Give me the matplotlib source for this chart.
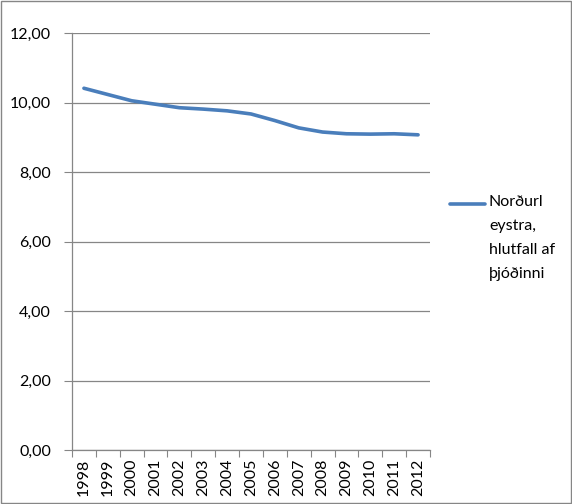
import matplotlib
matplotlib.use('Agg')
import matplotlib.pyplot as plt
from matplotlib.lines import Line2D
from matplotlib.patches import Rectangle
import numpy as np

# Data
years = ['1998', '1999', '2000', '2001', '2002', '2003', '2004', '2005',
         '2006', '2007', '2008', '2009', '2010', '2011', '2012']
share = [10.41, 10.23, 10.05, 9.95, 9.85, 9.81, 9.76, 9.67,
         9.48, 9.27, 9.15, 9.10, 9.09, 9.10, 9.07]
series_label = 'Norðurl\neystra,\nhlutfall af\nþjóðinni'
y_ticks = [0, 2, 4, 6, 8, 10, 12]

plt.rcParams['font.family'] = ['Lato', 'DejaVu Sans']
fs = 11.5

line_color = '#4A7EBB'
axis_color = '#868686'

fig = plt.figure(figsize=(5.72, 5.04), dpi=100)
fig.add_artist(Rectangle((0.0015, 0.0015), 0.997, 0.997, transform=fig.transFigure,
                         fill=False, edgecolor=axis_color, linewidth=1))

ax = fig.add_axes([72 / 572, 54 / 504, 358 / 572, 417 / 504])
x = np.arange(len(years))
ax.plot(x, share, color=line_color, linewidth=2.6, solid_capstyle='round',
        solid_joinstyle='round')

ax.set_xlim(-0.5, len(years) - 0.5)
ax.set_ylim(0, 12)

ax.set_yticks(y_ticks)
ax.set_yticklabels([f'{v:.2f}'.replace('.', ',') for v in y_ticks], fontsize=fs)
ax.grid(axis='y', color=axis_color, linewidth=0.9)
ax.set_axisbelow(True)

# category boundaries get tick marks, labels sit at category centres
ax.set_xticks(np.arange(-0.5, len(years), 1.0))
ax.set_xticklabels([])
ax.set_xticks(x, minor=True)
ax.set_xticklabels(years, minor=True, rotation=90, fontsize=fs)
ax.tick_params(axis='x', which='minor', length=0, pad=6)
ax.tick_params(axis='x', which='major', length=5, color=axis_color)
ax.tick_params(axis='y', length=6, color=axis_color, pad=9)

for side in ['top', 'right']:
    ax.spines[side].set_visible(False)
for side in ['left', 'bottom']:
    ax.spines[side].set_color(axis_color)
    ax.spines[side].set_linewidth(0.9)

# legend drawn by hand so the key lines up with the first text line
ly = 1 - 204 / 504
fig.add_artist(Line2D([450 / 572, 485 / 572], [ly, ly], transform=fig.transFigure,
                      color=line_color, linewidth=2.6, solid_capstyle='round'))
fig.text(489 / 572, 1 - 195 / 504, series_label, fontsize=fs, va='top', ha='left',
         linespacing=1.9, transform=fig.transFigure)

fig.savefig('out.png', dpi=100)
